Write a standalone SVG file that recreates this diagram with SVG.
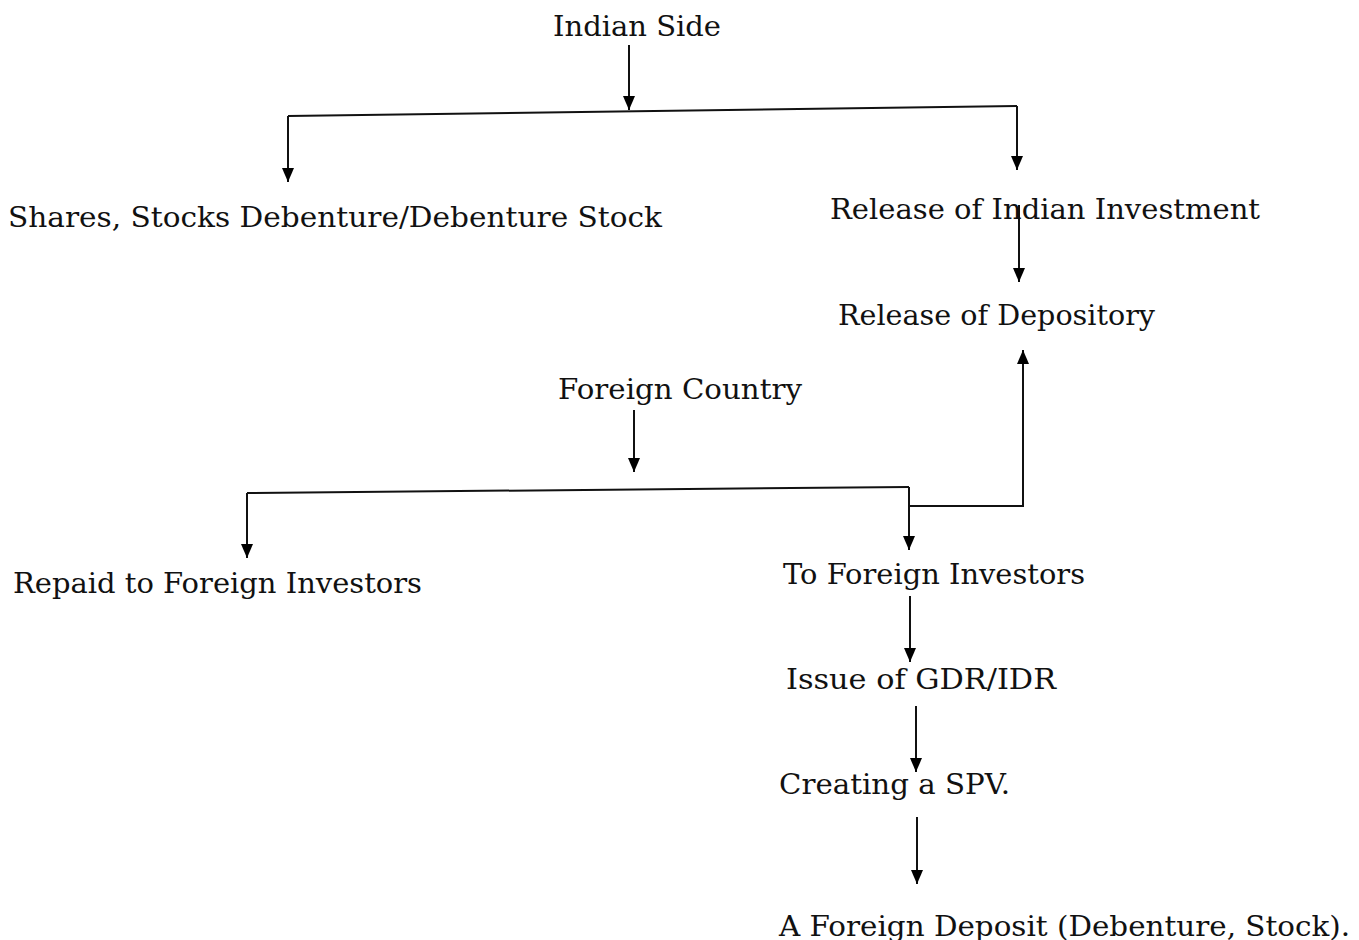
<svg xmlns="http://www.w3.org/2000/svg" width="1359" height="940" viewBox="0 0 1359 940">
<defs>
<marker id="ah" viewBox="0 0 14 12" refX="14" refY="6" markerWidth="14" markerHeight="12" markerUnits="userSpaceOnUse" orient="auto">
<path d="M0,0 L14,6 L0,12 Z" fill="#000"/>
</marker>
<style>
.t{font-family:"DejaVu Serif","Liberation Serif",serif;font-size:27px;fill:#111}
.c{fill:none;stroke:#111;stroke-width:2}
.a{marker-end:url(#ah)}
</style>
</defs>
<rect width="1359" height="940" fill="#fff"/>
<g id="connectors">
<path class="c a" d="M629,45 V110"/>
<path class="c" d="M288,116 L1017,106"/>
<path class="c a" d="M288,116 V182"/>
<path class="c a" d="M1017,106 V170"/>
<path class="c a" d="M1019,205 V282"/>
<path class="c a" d="M909,506 H1023 V350"/>
<path class="c a" d="M634,410 V472"/>
<path class="c" d="M247,493 L909,487"/>
<path class="c a" d="M247,493 V558"/>
<path class="c a" d="M909,487 V550"/>
<path class="c a" d="M910,596 V662"/>
<path class="c a" d="M916,706 V772"/>
<path class="c a" d="M917,817 V884"/>
</g>
<g id="indian-side"><text class="t" x="553" y="36" textLength="168" lengthAdjust="spacingAndGlyphs">Indian Side</text></g>
<g id="shares"><text class="t" x="8" y="227" textLength="654" lengthAdjust="spacingAndGlyphs">Shares, Stocks Debenture/Debenture Stock</text></g>
<g id="release-investment"><text class="t" x="830" y="219" textLength="430" lengthAdjust="spacingAndGlyphs">Release of Indian Investment</text></g>
<g id="release-depository"><text class="t" x="838" y="325" textLength="317" lengthAdjust="spacingAndGlyphs">Release of Depository</text></g>
<g id="foreign-country"><text class="t" x="558" y="399" textLength="244" lengthAdjust="spacingAndGlyphs">Foreign Country</text></g>
<g id="repaid"><text class="t" x="13" y="593" textLength="409" lengthAdjust="spacingAndGlyphs">Repaid to Foreign Investors</text></g>
<g id="to-foreign"><text class="t" x="783" y="584" textLength="302" lengthAdjust="spacingAndGlyphs">To Foreign Investors</text></g>
<g id="issue"><text class="t" x="786" y="689" textLength="270" lengthAdjust="spacingAndGlyphs">Issue of GDR/IDR</text></g>
<g id="spv"><text class="t" x="779" y="794" textLength="231" lengthAdjust="spacingAndGlyphs">Creating a SPV.</text></g>
<g id="deposit"><text class="t" x="779" y="936" textLength="571" lengthAdjust="spacingAndGlyphs">A Foreign Deposit (Debenture, Stock).</text></g>
</svg>
